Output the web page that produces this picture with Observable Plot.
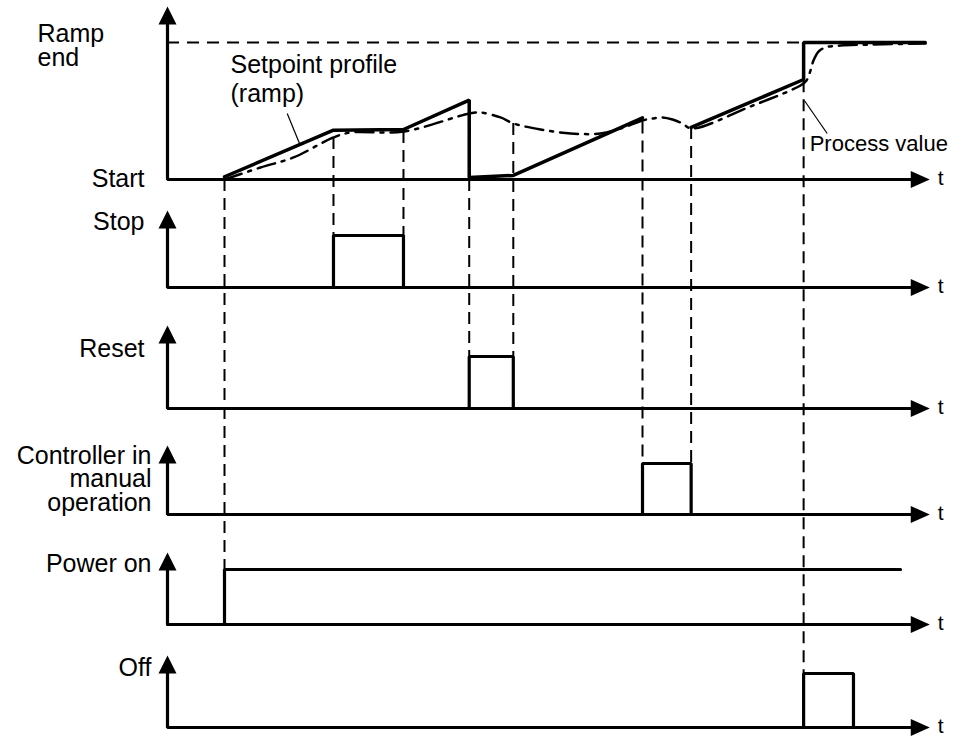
<!DOCTYPE html>
<html><head><meta charset="utf-8">
<script src="https://cdn.jsdelivr.net/npm/d3@7"></script>
<script src="https://cdn.jsdelivr.net/npm/@observablehq/plot@0.6"></script>
<style>body{margin:0;background:#fff} svg{display:block}</style>
</head><body><div id="chart"></div>
<script>
// ---------- data (time in arbitrary units, levels 0..1) ----------
const panelNames  = ["setpoint", "stop", "reset", "manual", "power", "off"];
const panelLabels = ["Start", "Stop", "Reset", "Controller in\nmanual\noperation", "Power on", "Off"];
const rampEndLabel = "Ramp\nend";
const setpointLabel = "Setpoint profile\n(ramp)";
const processLabel = "Process value";
const timeLabel = "t";

// setpoint profile, first part (ramp, hold, ramp, reset, wait, ramp)
const setpointT1 = [7.5, 21.84, 31.05, 39.7, 39.7, 45.5, 62.5];
const setpointL1 = [0.02, 0.36, 0.365, 0.58, 0.015, 0.03, 0.45];
// second part (after manual operation, ramp, jump to ramp end)
const setpointT2 = [68.9, 83.7, 83.7, 99.7];
const setpointL2 = [0.38, 0.73, 1, 1];

// process value
const processT = [7.5, 12.24, 16.58, 21.84, 24.08, 31.05, 39.74, 41.18, 43.82, 45.53, 49.08, 53.03, 56.97, 59.61, 62.5, 63.82, 65.13, 66.45, 67.76, 68.95, 76.71, 83.29, 84.08, 84.61, 85.0, 85.66, 86.58, 88.55, 92.5, 99.74];
const processL = [0, 0.088, 0.161, 0.307, 0.343, 0.35, 0.482, 0.489, 0.453, 0.409, 0.365, 0.336, 0.336, 0.372, 0.431, 0.445, 0.453, 0.438, 0.409, 0.372, 0.533, 0.686, 0.723, 0.796, 0.869, 0.934, 0.964, 0.978, 0.985, 0.993];

// binary signals
const stopPulse   = [21.84, 31.05];
const resetPulse  = [39.7, 45.5];
const manualPulse = [62.5, 68.9];
const offPulse    = [83.7, 90.26];
const powerOnT  = 7.5;
const powerEndT = 96.45;

// vertical dashed guide lines
const guideT         = [7.5, 21.84, 31.05, 39.7, 45.5, 62.5, 68.9, 83.7];
const guideFromLevel = [0, 0.307, 0.35, 0, 0.409, 0.42, 0.38, 0.72];
const guideToPanel   = ["power", "stop", "stop", "reset", "reset", "manual", "manual", "off"];

const rampEndT = 83.7;
const timeEnd = 100.3;

// ---------- layout (pixels) ----------
const layout = {
  setpoint: {base: 179, tip: 6,   high: 137, label: {dx: -23, y: 186}},
  stop:     {base: 287, tip: 210, high: 52,  label: {dx: -23, y: 229}},
  reset:    {base: 408, tip: 325, high: 52,  label: {dx: -23, y: 356}},
  manual:   {base: 514, tip: 445, high: 51,  label: {dx: -16, y: 510}},
  power:    {base: 624, tip: 552, high: 55,  label: {dx: -16, y: 571}},
  off:      {base: 727, tip: 655, high: 54,  label: {dx: -16, y: 675}}
};
const Y = (p, level) => layout[p].base - level * layout[p].high;
const font = "'Liberation Sans', Arial, Helvetica, sans-serif";

// ---------- derived tables ----------
const setpoint = [
  ...setpointT1.map((t, i) => ({t, y: Y("setpoint", setpointL1[i]), seg: 1})),
  ...setpointT2.map((t, i) => ({t, y: Y("setpoint", setpointL2[i]), seg: 2}))
];
const processVal = processT.map((t, i) => ({t, y: Y("setpoint", processL[i])}));

const pulse = (p, [a, b]) => [[a, 0], [a, 1], [b, 1], [b, 0]].map(([t, l]) => ({t, y: Y(p, l), p}));
const signals = [
  ...pulse("stop", stopPulse),
  ...pulse("reset", resetPulse),
  ...pulse("manual", manualPulse),
  ...pulse("off", offPulse),
  ...[[0, 0], [powerOnT, 0], [powerOnT, 1], [powerEndT, 1]].map(([t, l]) => ({t, y: Y("power", l), p: "power"}))
];

const guides = guideT.map((t, i) => ({t, y1: Y("setpoint", guideFromLevel[i]), y2: Y(guideToPanel[i], 1)}));

const axisLineEnd = timeEnd - 1.5;
const axes = panelNames.flatMap(p => [
  {p, t: 0, y: layout[p].tip + 10},
  {p, t: 0, y: layout[p].base},
  {p, t: axisLineEnd, y: layout[p].base}
]);

const arrowUp = {draw(ctx) { ctx.moveTo(0, 0); ctx.lineTo(9, 18); ctx.lineTo(-9, 18); ctx.closePath(); }};
const arrowRight = {draw(ctx) { ctx.moveTo(0, 0); ctx.lineTo(-19, -8.5); ctx.lineTo(-19, 8.5); ctx.closePath(); }};

const labels = panelNames.map((p, i) => ({p, text: panelLabels[i], y: layout[p].label.y, dx: layout[p].label.dx}));
const labelMark = (dx) => Plot.text(labels.filter(d => d.dx === dx), {
  x: () => 0, y: "y", dx, text: "text", textAnchor: "end", lineAnchor: "bottom",
  fontSize: 25, lineHeight: 0.94, fill: "#000"
});

const chart = Plot.plot({
  width: 967,
  height: 738,
  margin: 0,
  x: {domain: [0, 100], range: [167, 927], axis: null},
  y: {type: "identity", axis: null},
  style: {fontFamily: font, background: "#fff", color: "#000"},
  marks: [
    // guides
    Plot.ruleX(guides, {x: "t", y1: "y1", y2: "y2", stroke: "#000", strokeWidth: 2, strokeDasharray: "12,7"}),
    // ramp end dashed line
    Plot.ruleY([Y("setpoint", 1)], {x1: 0, x2: rampEndT, stroke: "#000", strokeWidth: 2, strokeDasharray: "12,8"}),
    // process value
    Plot.line(processVal, {x: "t", y: "y", curve: "catmull-rom", stroke: "#000", strokeWidth: 2.5, strokeDasharray: "18,7,3,7"}),
    // setpoint
    Plot.line(setpoint, {x: "t", y: "y", z: "seg", stroke: "#000", strokeWidth: 3.5, strokeLinejoin: "miter"}),
    // binary signals
    Plot.line(signals, {x: "t", y: "y", z: "p", stroke: "#000", strokeWidth: 3.2, strokeLinejoin: "miter"}),
    // axes
    Plot.line(axes, {x: "t", y: "y", z: "p", stroke: "#000", strokeWidth: 3.2, strokeLinejoin: "miter"}),
    Plot.dot(panelNames, {x: () => 0, y: p => layout[p].tip, symbol: arrowUp, r: 5, fill: "#000", stroke: "none"}),
    Plot.dot(panelNames, {x: () => timeEnd, y: p => layout[p].base, symbol: arrowRight, r: 5, fill: "#000", stroke: "none"}),
    // leader lines
    Plot.link([{x1: 15.75, y1: 113, x2: 17.37, y2: 143}, {x1: 83.8, y1: 100, x2: 86.8, y2: 133}],
      {x1: "x1", y1: "y1", x2: "x2", y2: "y2", stroke: "#000", strokeWidth: 1.2}),
    // texts
    labelMark(-23),
    labelMark(-16),
    Plot.text([rampEndLabel], {x: () => 0, y: () => 65.5, dx: -130, text: d => d, textAnchor: "start", lineAnchor: "bottom", fontSize: 25, lineHeight: 0.98, fill: "#000"}),
    Plot.text([setpointLabel], {x: () => 8.29, y: () => 101, text: d => d, textAnchor: "start", lineAnchor: "bottom", fontSize: 25, lineHeight: 1.16, fill: "#000"}),
    Plot.text([processLabel], {x: () => 84.5, y: () => 150.5, text: d => d, textAnchor: "start", lineAnchor: "bottom", fontSize: 22, fill: "#000"}),
    Plot.text(panelNames, {x: () => timeEnd, y: p => layout[p].base + 5, dx: 8, text: () => timeLabel, textAnchor: "start", lineAnchor: "bottom", fontSize: 21, fill: "#000"})
  ]
});
document.getElementById("chart").appendChild(chart);
</script>
</body></html>
